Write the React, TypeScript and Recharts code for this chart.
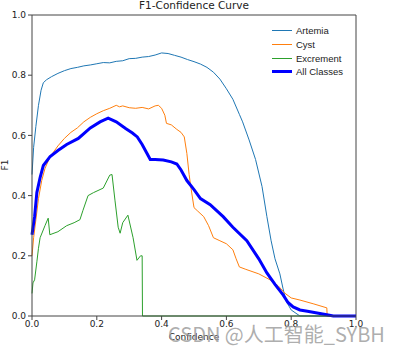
import React from "react";
import { Line, LineChart, ReferenceLine, XAxis, YAxis } from "recharts";

// [confidence, f1] pairs
const artemia: [number, number][] = [
  [0, 0.47], [0.005, 0.56], [0.012, 0.63], [0.02, 0.7], [0.028, 0.75], [0.035, 0.775], [0.045, 0.785],
  [0.06, 0.795], [0.08, 0.806], [0.1, 0.815], [0.12, 0.822], [0.14, 0.826], [0.16, 0.831], [0.18, 0.834],
  [0.2, 0.838], [0.22, 0.842], [0.24, 0.841], [0.26, 0.846], [0.28, 0.848], [0.3, 0.855], [0.32, 0.856],
  [0.34, 0.86], [0.36, 0.862], [0.38, 0.867], [0.4, 0.874], [0.42, 0.872], [0.44, 0.866], [0.46, 0.86],
  [0.48, 0.852], [0.5, 0.845], [0.52, 0.837], [0.54, 0.826], [0.56, 0.81], [0.58, 0.787], [0.6, 0.755],
  [0.62, 0.72], [0.64, 0.67], [0.65, 0.645], [0.67, 0.585], [0.69, 0.52], [0.71, 0.43], [0.725, 0.33],
  [0.738, 0.25], [0.75, 0.19], [0.765, 0.14], [0.775, 0.09], [0.784, 0.05], [0.8, 0.02], [0.827, 0], [1, 0],
];

const cyst: [number, number][] = [
  [0, 0.2], [0.005, 0.26], [0.012, 0.32], [0.02, 0.39], [0.03, 0.45], [0.04, 0.49], [0.05, 0.515],
  [0.06, 0.535], [0.08, 0.565], [0.1, 0.59], [0.12, 0.61], [0.14, 0.625], [0.16, 0.645], [0.18, 0.66],
  [0.2, 0.672], [0.22, 0.682], [0.24, 0.69], [0.26, 0.7], [0.27, 0.695], [0.28, 0.698], [0.3, 0.692],
  [0.32, 0.69], [0.34, 0.693], [0.36, 0.688], [0.38, 0.698], [0.39, 0.7], [0.4, 0.69], [0.41, 0.667],
  [0.415, 0.64], [0.43, 0.635], [0.447, 0.62], [0.46, 0.61], [0.47, 0.595], [0.478, 0.54], [0.485, 0.47],
  [0.49, 0.43], [0.5, 0.36], [0.51, 0.35], [0.53, 0.33], [0.545, 0.3], [0.56, 0.26], [0.58, 0.25],
  [0.6, 0.24], [0.62, 0.22], [0.63, 0.19], [0.64, 0.163], [0.66, 0.155], [0.7, 0.14], [0.735, 0.12],
  [0.76, 0.1], [0.78, 0.076], [0.8, 0.06], [0.827, 0.053], [0.87, 0.04], [0.91, 0.027], [0.911, 0], [1, 0],
];

const excrement: [number, number][] = [
  [0, 0.075], [0.003, 0.11], [0.008, 0.12], [0.015, 0.18], [0.02, 0.225], [0.025, 0.26], [0.04, 0.3],
  [0.05, 0.325], [0.055, 0.27], [0.08, 0.28], [0.107, 0.3], [0.13, 0.31], [0.148, 0.32], [0.157, 0.35],
  [0.173, 0.4], [0.19, 0.41], [0.21, 0.42], [0.22, 0.425], [0.24, 0.468], [0.247, 0.47], [0.256, 0.385],
  [0.266, 0.295], [0.272, 0.275], [0.28, 0.31], [0.296, 0.335], [0.312, 0.26], [0.324, 0.185],
  [0.335, 0.2], [0.34, 0.2], [0.341, 0], [1, 0],
];

const allClasses: [number, number][] = [
  [0, 0.27], [0.008, 0.33], [0.015, 0.41], [0.025, 0.46], [0.035, 0.5], [0.056, 0.53], [0.08, 0.55],
  [0.107, 0.57], [0.143, 0.59], [0.18, 0.625], [0.21, 0.645], [0.235, 0.657], [0.26, 0.645], [0.29, 0.622],
  [0.31, 0.608], [0.325, 0.595], [0.34, 0.57], [0.355, 0.54], [0.365, 0.52], [0.38, 0.52], [0.405, 0.518],
  [0.43, 0.512], [0.447, 0.505], [0.46, 0.485], [0.478, 0.45], [0.5, 0.42], [0.52, 0.39], [0.55, 0.37],
  [0.59, 0.33], [0.62, 0.295], [0.663, 0.25], [0.7, 0.19], [0.725, 0.143], [0.75, 0.105], [0.775, 0.07],
  [0.79, 0.045], [0.806, 0.03], [0.827, 0.02], [0.85, 0.016], [0.88, 0.01], [0.91, 0.004], [0.93, 0], [1, 0],
];

const ticks = [0, 0.2, 0.4, 0.6, 0.8, 1.0];

const series = [
  { name: "Artemia", points: artemia, color: "#1f77b4", width: 1 },
  { name: "Cyst", points: cyst, color: "#ff7f0e", width: 1 },
  { name: "Excrement", points: excrement, color: "#2ca02c", width: 1 },
  { name: "All Classes", points: allClasses, color: "#0000ff", width: 3 },
];

const toRows = (pts: [number, number][]) => pts.map(([x, y]) => ({ x, y }));

const tickStyle = { fontSize: 9, fill: "#222", fontFamily: "DejaVu Sans" };
const axisColor = "#444";

export default function App() {
  return (
    <div style={{ position: "absolute", left: 0, top: 0, width: 393, height: 355, background: "#fff", fontFamily: "DejaVu Sans" }}>
      <LineChart width={393} height={355} margin={{ top: 15, right: 37, left: 0, bottom: 19 }}>
        <XAxis
          dataKey="x"
          type="number"
          domain={[0, 1]}
          ticks={ticks}
          tickFormatter={(v: number) => v.toFixed(1)}
          tick={tickStyle}
          tickSize={4}
          tickMargin={1}
          height={20}
          stroke={axisColor}
          allowDuplicatedCategory={false}
        />
        <YAxis
          type="number"
          domain={[0, 1]}
          ticks={ticks}
          tickFormatter={(v: number) => v.toFixed(1)}
          tick={tickStyle}
          tickSize={4}
          tickMargin={2}
          width={32}
          stroke={axisColor}
        />
        <ReferenceLine y={1} stroke={axisColor} />
        <ReferenceLine x={1} stroke={axisColor} />
        {series.map((s) => (
          <Line
            key={s.name}
            data={toRows(s.points)}
            dataKey="y"
            name={s.name}
            type="linear"
            stroke={s.color}
            strokeWidth={s.width}
            dot={false}
            activeDot={false}
            isAnimationActive={false}
          />
        ))}
      </LineChart>

      {/* title */}
      <div style={{ position: "absolute", left: 32, width: 324, top: -1, textAlign: "center", fontSize: 10.5, color: "#222" }}>
        F1-Confidence Curve
      </div>

      {/* axis labels */}
      <div style={{ position: "absolute", left: -3, top: 160, width: 16, textAlign: "center", fontSize: 9, color: "#222", transform: "rotate(-90deg)" }}>
        F1
      </div>
      <div style={{ position: "absolute", left: 32, width: 324, top: 332, textAlign: "center", fontSize: 9, color: "#222" }}>
        Confidence
      </div>

      {/* legend */}
      <div style={{ position: "absolute", left: 272, top: 24, fontFamily: "Liberation Sans", fontSize: 9.5, color: "#222" }}>
        {series.map((s) => (
          <div key={s.name} style={{ display: "flex", alignItems: "center", height: 13.7 }}>
            <div style={{ width: 20, height: s.width, background: s.color, marginRight: 4 }} />
            <span>{s.name}</span>
          </div>
        ))}
      </div>

      {/* watermark */}
      <div style={{ position: "absolute", left: 168, top: 319, fontFamily: "Noto Sans CJK SC", fontSize: 20, color: "rgba(160,160,160,0.85)", whiteSpace: "nowrap" }}>
        CSDN @人工智能_SYBH
      </div>
    </div>
  );
}
